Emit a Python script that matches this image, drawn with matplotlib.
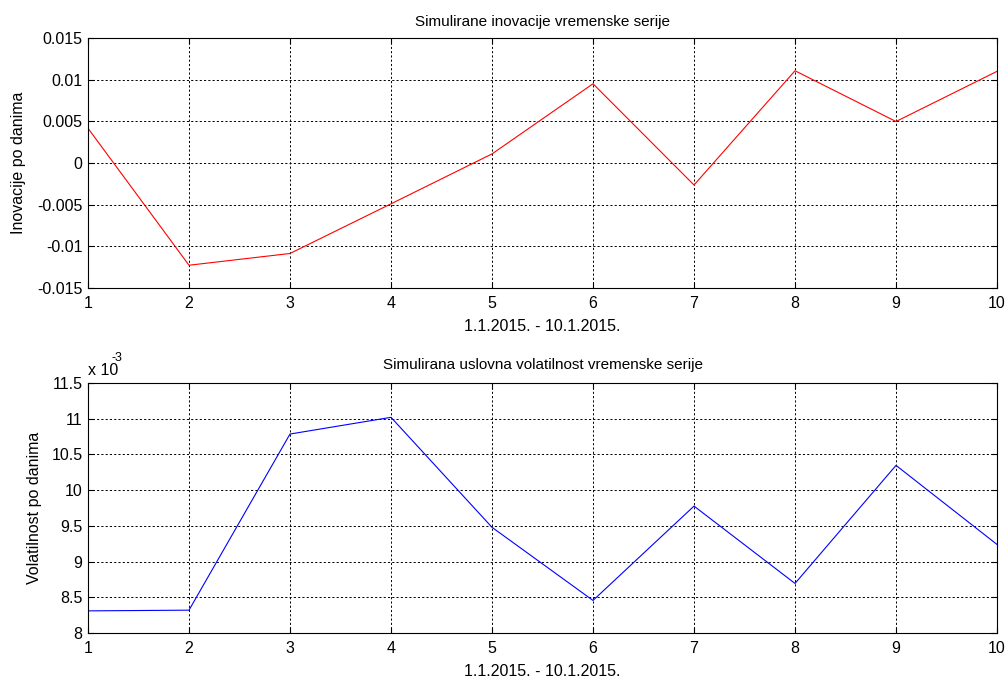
import numpy as np
import matplotlib
matplotlib.use('Agg')
import matplotlib.pyplot as plt
from matplotlib.ticker import FuncFormatter

plt.rcParams['font.family'] = ['Liberation Sans', 'DejaVu Sans']
plt.rcParams['axes.unicode_minus'] = False

days = [1, 2, 3, 4, 5, 6, 7, 8, 9, 10]
innovations = [0.00417, -0.01227, -0.01086, -0.0049, 0.00109, 0.00951,
               -0.00264, 0.01107, 0.00498, 0.011]
volatility = [0.00831, 0.00832, 0.010786, 0.01102, 0.00948, 0.008456,
              0.009777, 0.008694, 0.010347, 0.00924]

inov_ticks = [-0.015, -0.01, -0.005, 0, 0.005, 0.01, 0.015]
vol_ticks = [0.008, 0.0085, 0.009, 0.0095, 0.010, 0.0105, 0.011, 0.0115]
xlabel = '1.1.2015. - 10.1.2015.'

fig = plt.figure(figsize=(10.08, 6.8), dpi=100)
ax1 = fig.add_axes([0.0873, 0.5765, 0.9018, 0.3676])
ax2 = fig.add_axes([0.0873, 0.0691, 0.9018, 0.3676])


def style(ax):
    ax.set_xlim(1, 10)
    ax.set_xticks(days)
    ax.grid(True, color='black', linestyle=(0, (2.2, 2.2)), linewidth=0.7)
    ax.tick_params(direction='in', length=4, labelsize=11.5, colors='black',
                   top=True, right=True, pad=4)
    ax.tick_params(axis='x', pad=5.5)
    for s in ax.spines.values():
        s.set_linewidth(0.8)
        s.set_color('black')


ax1.plot(days, innovations, color='red', linewidth=0.8)
style(ax1)
ax1.set_ylim(-0.015, 0.015)
ax1.set_yticks(inov_ticks)
ax1.yaxis.set_major_formatter(FuncFormatter(lambda v, p: f'{v:g}'))
ax1.set_title('Simulirane inovacije vremenske serije', fontsize=11, pad=9)
ax1.set_xlabel(xlabel, fontsize=11.5, labelpad=6)
ax1.set_ylabel('Inovacije po danima', fontsize=11.5, labelpad=8)

ax2.plot(days, volatility, color='blue', linewidth=0.8)
style(ax2)
ax2.set_ylim(0.008, 0.0115)
ax2.set_yticks(vol_ticks)
ax2.yaxis.set_major_formatter(FuncFormatter(lambda v, p: f'{v * 1e3:g}'))
ax2.set_title('Simulirana uslovna volatilnost vremenske serije', fontsize=11, pad=10)
ax2.set_xlabel(xlabel, fontsize=11.5, labelpad=6)
ax2.set_ylabel('Volatilnost po danima', fontsize=11.5, labelpad=7)
ax2.text(0.0, 1.02, 'x 10', transform=ax2.transAxes, fontsize=11.5,
         ha='left', va='bottom')
ax2.text(0.0255, 1.075, '-3', transform=ax2.transAxes, fontsize=9,
         ha='left', va='bottom')

fig.savefig('out.png', dpi=100)
